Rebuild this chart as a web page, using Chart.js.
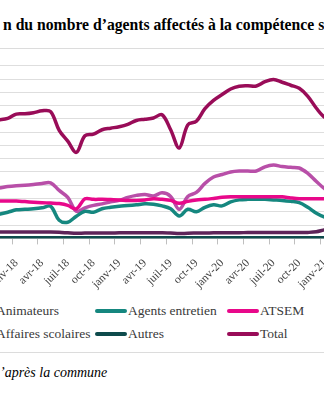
<!DOCTYPE html>
<html>
<head>
<meta charset="utf-8">
<script src="https://cdn.jsdelivr.net/npm/chart.js@4.4.1/dist/chart.umd.min.js"></script>
<style>
  html, body { margin: 0; padding: 0; width: 324px; height: 400px; overflow: hidden; background: #fff; }
  body { position: relative; font-family: "Liberation Serif", "Times New Roman", serif; color: #3a3a3a; }
  #title { position: absolute; left: 3px; top: 16px; font-size: 15.7px; line-height: 17px; font-weight: bold; color: #000; white-space: nowrap; }
  .rule { position: absolute; left: 0; width: 324px; height: 1px; background: #dcdcdc; }
  #wrap { position: absolute; left: 0; top: 0; width: 400px; height: 260px; }
  .item { position: absolute; display: flex; align-items: center; height: 16px; font-size: 13.5px; white-space: nowrap; }
  .sw { display: inline-block; width: 32px; height: 4px; border-radius: 2px; margin-right: 1px; }
  #source { position: absolute; left: 0; top: 365px; font-size: 14px; line-height: 16px; font-style: italic; color: #000; white-space: nowrap; }
</style>
</head>
<body>
<div id="title">n du nombre d’agents affectés à la compétence s</div>
<div class="rule" style="top:48px"></div>
<div id="wrap"><canvas id="chart"></canvas></div>
<div id="legend"></div>
<div class="rule" style="top:352px"></div>
<div id="source">’après la commune</div>
<script>
// monthly categories, oct-17 .. févr-21
const months = ['oct-17', 'nov-17', 'déc-17',
  'janv-18', 'févr-18', 'mars-18', 'avr-18', 'mai-18', 'juin-18', 'juil-18', 'août-18', 'sept-18', 'oct-18', 'nov-18', 'déc-18',
  'janv-19', 'févr-19', 'mars-19', 'avr-19', 'mai-19', 'juin-19', 'juil-19', 'août-19', 'sept-19', 'oct-19', 'nov-19', 'déc-19',
  'janv-20', 'févr-20', 'mars-20', 'avr-20', 'mai-20', 'juin-20', 'juil-20', 'août-20', 'sept-20', 'oct-20', 'nov-20', 'déc-20',
  'janv-21', 'févr-21'];

const animateurs = [37.6, 38.0, 39.1,
  39.7, 40.0, 40.6, 41.4, 41.8, 36.1, 30.9, 20.4, 23.0, 24.9, 26.0, 27.5,
  28.6, 30.9, 32.4, 33.1, 32.0, 34.3, 31.6, 21.9, 31.6, 34.6, 41.4, 46.2,
  48.1, 50.0, 50.7, 50.7, 50.7, 53.9, 55.2, 54.1, 53.5, 53.0, 48.9, 42.9,
  37.3, 35.4];
const agentsEntretien = [17.4, 18.2, 19.7,
  21.5, 21.9, 22.3, 23.0, 24.2, 13.7, 12.2, 16.7, 20.4, 19.7, 22.3, 23.4,
  24.2, 24.7, 25.3, 26.0, 25.7, 24.5, 22.3, 16.9, 21.9, 20.0, 23.4, 25.3,
  24.5, 27.5, 29.0, 29.4, 29.4, 29.4, 29.0, 28.6, 27.9, 26.9, 23.4, 18.9,
  15.9, 15.2];
const atsem = [28.3, 28.1, 28.1,
  28.1, 27.7, 27.3, 26.9, 26.6, 26.2, 24.9, 22.3, 29.8, 29.4, 29.4, 29.2,
  29.0, 28.6, 28.6, 29.0, 29.8, 29.4, 28.6, 26.4, 27.9, 29.0, 29.4, 30.1,
  30.9, 31.3, 31.4, 31.4, 31.4, 31.4, 31.4, 31.3, 30.5, 29.9, 29.8, 29.8,
  29.9, 29.9];
const affairesScolaires = [4.8, 4.8, 4.8,
  4.8, 4.8, 4.8, 4.8, 4.8, 4.6, 4.2, 3.8, 4.0, 4.0, 4.1, 4.1,
  4.2, 4.2, 4.2, 4.3, 4.3, 4.2, 4.0, 3.6, 3.9, 4.0, 4.1, 4.2,
  4.2, 4.3, 4.3, 4.4, 4.4, 4.4, 4.4, 4.4, 4.4, 4.4, 4.5, 5.0,
  6.5, 7.0];
const autres = [0.4, 0.4, 0.4,
  0.4, 0.4, 0.4, 0.4, 0.4, 0.4, 0.4, 0.4, 0.4, 0.4, 0.4, 0.4,
  0.4, 0.4, 0.4, 0.4, 0.4, 0.4, 0.4, 0.4, 0.4, 0.4, 0.4, 0.4,
  0.4, 0.4, 0.4, 0.4, 0.4, 0.4, 0.4, 0.4, 0.4, 0.4, 0.4, 0.4,
  0.4, 0.4];
const total = [88.6, 89.3, 90.4,
  93.6, 93.8, 94.6, 96.1, 95.5, 81.4, 73.2, 64.8, 77.3, 78.5, 81.8, 83.0,
  84.1, 85.9, 88.8, 89.7, 90.7, 93.1, 81.8, 68.1, 85.5, 88.2, 97.7, 103.9,
  108.3, 112.5, 114.6, 114.9, 114.8, 118.0, 119.6, 117.6, 115.3, 113.0, 107.0, 98.0,
  91.0, 89.0];

const seriesNames = ['Animateurs', 'Agents entretien', 'ATSEM', 'Affaires scolaires', 'Autres', 'Total'];
const seriesData = [animateurs, agentsEntretien, atsem, affairesScolaires, autres, total];
const colors = ['#b84fa8', '#15877f', '#e8088a', '#5e2459', '#0e4b4c', '#990c58'];

Chart.defaults.font.family = '"Liberation Serif", "Times New Roman", serif';
Chart.defaults.color = '#404040';

const wrap = document.getElementById('wrap');
const chart = new Chart(document.getElementById('chart'), {
  type: 'line',
  data: {
    labels: months,
    datasets: seriesData.map((d, i) => ({
      label: seriesNames[i],
      data: d,
      borderColor: colors[i],
      backgroundColor: colors[i],
      borderWidth: 3.5,
      pointRadius: 0,
      tension: 0.35,
      borderCapStyle: 'round',
      borderJoinStyle: 'round',
      order: seriesData.length - i // excel draws last series on top
    }))
  },
  options: {
    responsive: true,
    maintainAspectRatio: false,
    animation: false,
    layout: { padding: 0 },
    plugins: { legend: { display: false }, tooltip: { enabled: false } },
    scales: {
      x: {
        offset: true,
        grid: {
          offset: true,
          drawOnChartArea: false,
          tickLength: 6,
          tickColor: ctx => (ctx.index % 3 === 0 ? '#bfbfbf' : 'rgba(0,0,0,0)')
        },
        border: { display: true, color: '#d9d9d9' },
        ticks: {
          autoSkip: false,
          minRotation: 45,
          maxRotation: 45,
          padding: 12,
          font: { size: 11.5 },
          callback: (v, i) => (i % 3 === 0 ? months[i] : '')
        }
      },
      y: {
        min: 0,
        max: 130,
        ticks: { display: false, stepSize: 10 },
        grid: { color: '#dedede', drawTicks: false },
        border: { display: false }
      }
    }
  }
});

// size the plot so a month is 8.58px and the axis 0..130 spans 173px
for (let k = 0; k < 3; k++) {
  const a = chart.chartArea;
  const xs = chart.scales.x;
  const step = xs.getPixelForValue(1) - xs.getPixelForValue(0);
  const w = parseFloat(wrap.style.width || 400) + (8.58 - step) * months.length;
  const h = parseFloat(wrap.style.height || 260) + (173 - (a.bottom - a.top));
  wrap.style.width = Math.round(w) + 'px';
  wrap.style.height = Math.round(h) + 'px';
  chart.resize();
}
wrap.style.left = Math.round(16.7 - chart.scales.x.getPixelForValue(3)) + 'px';
wrap.style.top = Math.round(66 - chart.chartArea.top) + 'px';

// legend, three columns, first column partly off the left edge
const legendCols = [-37, 95, 227];
const rowCenters = [311, 334];
const legend = document.getElementById('legend');
seriesNames.forEach((name, i) => {
  const item = document.createElement('div');
  item.className = 'item';
  item.style.left = legendCols[i % 3] + 'px';
  item.style.top = (rowCenters[Math.floor(i / 3)] - 8) + 'px';
  item.innerHTML = '<span class="sw" style="background:' + colors[i] + '"></span><span>' + name + '</span>';
  legend.appendChild(item);
});
</script>
</body>
</html>
